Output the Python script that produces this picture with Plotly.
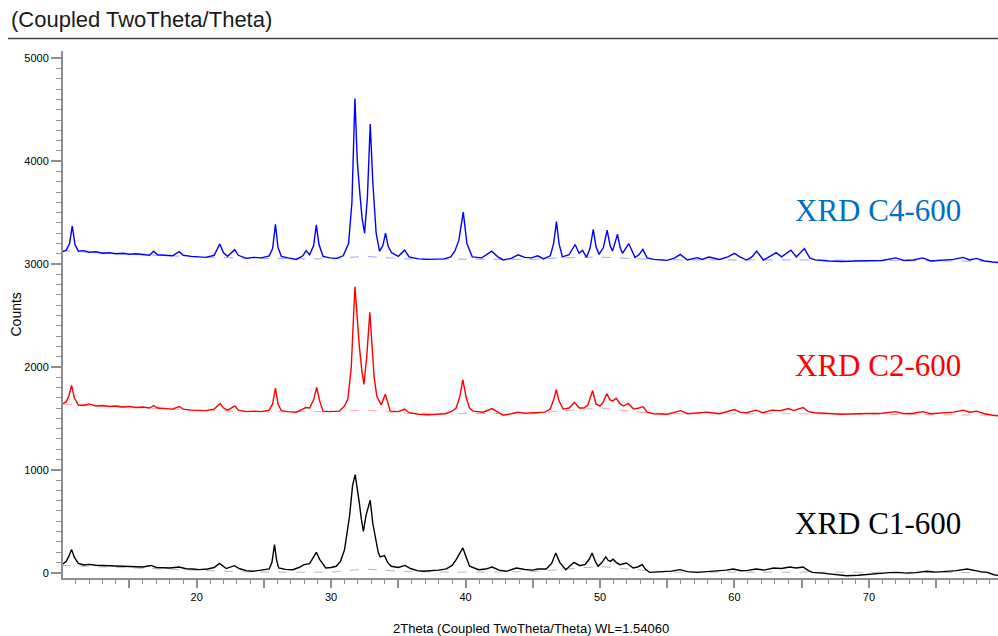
import plotly.graph_objects as go

# ---------------- data ----------------
# XRD C4-600 (blue)
c4_tt = [10.0, 10.3, 10.55, 10.75, 10.95, 11.2, 11.6, 12.0, 12.5, 13.0, 13.5, 14.0, 14.5, 15.0, 15.5, 16.0,
         16.5, 16.8, 17.1, 17.6, 18.2, 18.7, 19.0, 19.6, 20.2, 20.7, 21.3, 21.72, 22.0, 22.3, 22.83, 23.1,
         23.7, 24.2, 24.8, 25.4, 25.65, 25.86, 26.05, 26.3, 26.8, 27.4, 27.9, 28.14, 28.4, 28.7, 28.9, 29.1,
         29.4, 29.9, 30.4, 30.9, 31.3, 31.55, 31.77, 31.95, 32.1, 32.3, 32.49, 32.7, 32.91, 33.1, 33.35,
         33.6, 33.85, 34.05, 34.25, 34.5, 35.0, 35.47, 35.8, 36.5, 37.2, 37.8, 38.4, 38.9, 39.2, 39.5, 39.83,
         40.1, 40.5, 41.2, 41.95, 42.4, 42.8, 43.4, 43.9, 44.4, 44.9, 45.37, 45.8, 46.3, 46.55, 46.76, 46.95,
         47.2, 47.7, 48.15, 48.44, 48.7, 49.0, 49.25, 49.5, 49.7, 49.93, 50.25, 50.53, 50.75, 50.93, 51.3,
         51.5, 51.67, 52.14, 52.6, 52.9, 53.19, 53.5, 54.0, 54.95, 55.5, 55.97, 56.5, 57.23, 57.6, 58.1,
         58.9, 59.5, 60.0, 60.4, 60.9, 61.3, 61.65, 62.15, 62.7, 63.1, 63.5, 64.2, 64.6, 65.2, 65.6, 66.0,
         67.0, 68.0, 69.0, 70.0, 71.0, 72.0, 72.6, 73.3, 74.0, 74.6, 75.5, 76.3, 77.0, 77.5, 78.0, 78.6,
         79.2, 80.0]
c4_counts = [3120, 3135, 3200, 3370, 3190, 3125, 3130, 3115, 3120, 3105, 3110, 3100, 3105, 3095, 3100, 3090,
             3085, 3125, 3090, 3085, 3080, 3120, 3085, 3075, 3070, 3065, 3085, 3195, 3110, 3075, 3140, 3085,
             3055, 3065, 3060, 3080, 3150, 3385, 3160, 3075, 3060, 3045, 3080, 3130, 3090, 3180, 3380, 3190,
             3075, 3060, 3055, 3080, 3200, 3600, 4610, 4000, 3745, 3450, 3300, 3650, 4360, 3800, 3300,
             3125, 3180, 3300, 3170, 3110, 3075, 3135, 3070, 3050, 3045, 3048, 3050, 3070, 3125, 3230, 3505,
             3200, 3070, 3060, 3125, 3070, 3040, 3055, 3090, 3065, 3060, 3080, 3050, 3080, 3200, 3412, 3200,
             3070, 3090, 3190, 3105, 3133, 3065, 3150, 3337, 3170, 3094, 3160, 3330, 3180, 3126, 3289,
             3160, 3104, 3198, 3065, 3090, 3143, 3060, 3045, 3036, 3055, 3094, 3039, 3062, 3045, 3068,
             3045, 3070, 3104, 3070, 3039, 3070, 3126, 3039, 3080, 3111, 3070, 3135, 3070, 3150, 3060, 3040,
             3030, 3025, 3030, 3030, 3035, 3060, 3035, 3040, 3060, 3030, 3035, 3045, 3065, 3040, 3055, 3030,
             3020, 3010]

# XRD C2-600 (red)
c2_tt = [10.0, 10.3, 10.5, 10.7, 10.9, 11.2, 11.6, 12.0, 12.5, 13.0, 13.5, 14.0, 14.5, 15.0, 15.5, 16.0,
         16.5, 16.8, 17.1, 17.6, 18.2, 18.7, 19.0, 19.6, 20.2, 20.7, 21.3, 21.75, 22.0, 22.3, 22.85, 23.1,
         23.7, 24.3, 24.8, 25.4, 25.65, 25.86, 26.05, 26.3, 26.8, 27.4, 27.9, 28.1, 28.4, 28.7, 28.93, 29.15,
         29.4, 29.9, 30.6, 31.0, 31.25, 31.5, 31.77, 31.95, 32.1, 32.3, 32.44, 32.65, 32.88, 33.05, 33.2,
         33.4, 33.73, 34.03, 34.2, 34.4, 35.0, 35.47, 35.8, 36.5, 37.2, 37.8, 38.5, 39.0, 39.3, 39.55, 39.8,
         40.05, 40.3, 40.55, 41.3, 41.97, 42.4, 42.8, 43.4, 43.9, 44.4, 45.37, 45.9, 46.3, 46.55, 46.75,
         46.95, 47.25, 47.7, 48.1, 48.45, 48.8, 49.1, 49.45, 49.7, 50.0, 50.25, 50.5, 50.75, 50.95, 51.2,
         51.5, 51.75, 52.1, 52.5, 52.9, 53.2, 53.5, 54.0, 55.0, 55.5, 56.0, 56.5, 57.2, 58.0, 58.9, 59.5,
         60.0, 60.4, 60.9, 61.6, 62.1, 62.8, 63.4, 64.0, 64.4, 65.1, 65.5, 66.0, 67.0, 68.0, 69.0, 70.0,
         71.0, 72.0, 72.6, 73.3, 74.0, 74.6, 75.5, 76.3, 77.0, 77.5, 78.0, 78.6, 79.2, 80.0]
c2_counts = [1640, 1660, 1720, 1820, 1700, 1630, 1625, 1640, 1620, 1625, 1615, 1620, 1610, 1615, 1605, 1610,
             1600, 1625, 1600, 1595, 1590, 1615, 1590, 1580, 1575, 1575, 1590, 1645, 1600, 1580, 1620, 1580,
             1565, 1570, 1565, 1580, 1640, 1795, 1640, 1575, 1565, 1560, 1590, 1605, 1600, 1680, 1800, 1670,
             1570, 1565, 1570, 1620, 1690, 2000, 2780, 2400, 2200, 1950, 1830, 2100, 2530, 2200, 1900,
             1715, 1630, 1735, 1650, 1570, 1565, 1590, 1555, 1540, 1535, 1540, 1545, 1570, 1600, 1700, 1875,
             1700, 1600, 1570, 1560, 1595, 1560, 1530, 1545, 1560, 1550, 1555, 1560, 1590, 1680, 1780,
             1670, 1590, 1600, 1655, 1600, 1600, 1630, 1770, 1640, 1620, 1660, 1740, 1680, 1670, 1695,
             1640, 1620, 1645, 1590, 1600, 1615, 1560, 1545, 1540, 1555, 1575, 1545, 1555, 1560, 1545, 1565,
             1585, 1560, 1555, 1580, 1555, 1580, 1575, 1595, 1575, 1605, 1565, 1555, 1545, 1540, 1545, 1545,
             1550, 1565, 1545, 1550, 1565, 1545, 1550, 1560, 1580, 1560, 1570, 1545, 1530, 1520]

# XRD C1-600 (black)
c1_tt = [10.0, 10.3, 10.5, 10.7, 10.9, 11.2, 11.6, 12.0, 12.5, 13.0, 13.5, 14.0, 14.5, 15.0, 15.5, 16.0,
         16.6, 17.0, 17.5, 18.0, 18.7, 19.2, 19.7, 20.2, 20.8, 21.3, 21.7, 22.0, 22.2, 22.8, 23.2, 23.7,
         24.17, 24.8, 25.4, 25.6, 25.79, 25.95, 26.1, 26.6, 27.15, 27.6, 28.0, 28.4, 28.65, 28.9, 29.15,
         29.6, 30.0, 30.38, 30.7, 31.0, 31.37, 31.6, 31.79, 31.95, 32.1, 32.25, 32.4, 32.6, 32.91, 33.1,
         33.3, 33.5, 33.65, 33.97, 34.2, 34.47, 35.0, 35.5, 35.9, 36.4, 36.83, 37.5, 38.0, 38.57, 39.0,
         39.3, 39.55, 39.8, 40.05, 40.3, 40.97, 41.5, 41.97, 42.5, 43.04, 43.78, 44.4, 45.0, 45.37, 46.0,
         46.4, 46.71, 47.0, 47.45, 47.8, 48.07, 48.5, 48.9, 49.2, 49.41, 49.65, 49.86, 50.15, 50.43, 50.6,
         50.78, 50.97, 51.2, 51.47, 51.97, 52.47, 52.8, 53.14, 53.4, 53.7, 54.5, 55.3, 55.94, 56.5, 57.2,
         58.0, 58.8, 59.4, 59.9, 60.5, 61.0, 61.6, 62.2, 62.9, 63.5, 64.1, 64.6, 65.1, 65.5, 65.8, 66.5,
         67.5, 68.35, 69.2, 70.0, 70.8, 71.5, 72.1, 72.8, 73.5, 74.3, 75.0, 75.8, 76.5, 77.3, 77.8, 78.3,
         78.8, 79.3, 80.0]
c1_counts = [78, 110, 160, 224, 150, 90, 75, 80, 72, 70, 65, 62, 60, 58, 55, 55,
             70, 50, 48, 45, 55, 38, 35, 29, 35, 50, 90, 55, 40, 68, 38, 20,
             13, 25, 36, 100, 272, 120, 45, 32, 29, 50, 78, 88, 140, 198, 130,
             45, 50, 62, 110, 224, 548, 850, 953, 780, 678, 520, 402, 560, 704, 480,
             321, 200, 153, 165, 100, 62, 50, 70, 40, 20, 13, 18, 25, 36, 70,
             126, 190, 240, 150, 62, 29, 35, 55, 25, 13, 45, 30, 25, 36, 36,
             90, 191, 100, 29, 70, 100, 68, 80, 130, 191, 110, 62, 100, 153, 120,
             110, 130, 100, 78, 94, 45, 55, 78, 30, 3, 10, 15, 29, 10, 3,
             12, 15, 25, 36, 18, 22, 36, 25, 45, 40, 55, 45, 55, 20, 3, -5,
             -20, -30, -25, -15, -10, 0, 3, -5, 0, 13, 5, 10, 20, 36, 20, 10,
             3, -20, -35]

# fitted backgrounds (faint lines under each pattern)
bg_tt = [10.0, 14.0, 20.0, 24.0, 30.0, 32.5, 35.5, 40.0, 45.0, 47.0, 50.0, 53.0, 55.0, 65.0, 80.0]
c4_bg = [3130, 3100, 3070, 3055, 3050, 3075, 3050, 3045, 3045, 3060, 3068, 3050, 3040, 3040, 3025]
c2_bg = [1640, 1610, 1580, 1565, 1565, 1580, 1550, 1545, 1545, 1570, 1600, 1560, 1545, 1545, 1530]
c1_bg = [70, 50, 20, 5, 5, 35, 10, 5, 10, 30, 60, 25, 5, 5, 0]

series_names = ["XRD C1-600", "XRD C2-600", "XRD C4-600"]
x_tick_vals = [15, 20, 25, 30, 35, 40, 45, 50, 55, 60, 65, 70, 75]
x_tick_text = ["", "20", "", "30", "", "40", "", "50", "", "60", "", "70", ""]
y_tick_vals = [0, 1000, 2000, 3000, 4000, 5000]
y_tick_text = ["0", "1000", "2000", "3000", "4000", "5000"]

# ---------------- figure ----------------
fig = go.Figure()

bg_styles = [(c1_bg, "#b0b0b0"), (c2_bg, "#ff9a9a"), (c4_bg, "#9a9aff")]
for bg, col in bg_styles:
    fig.add_trace(go.Scatter(x=bg_tt, y=bg, mode="lines", line=dict(color=col, width=0.9, dash="dash"),
                             hoverinfo="skip", showlegend=False))

fig.add_trace(go.Scatter(x=c1_tt, y=c1_counts, mode="lines", name=series_names[0],
                         line=dict(color="#000000", width=1.4), showlegend=False))
fig.add_trace(go.Scatter(x=c2_tt, y=c2_counts, mode="lines", name=series_names[1],
                         line=dict(color="#ff0000", width=1.4), showlegend=False))
fig.add_trace(go.Scatter(x=c4_tt, y=c4_counts, mode="lines", name=series_names[2],
                         line=dict(color="#0000ff", width=1.4), showlegend=False))

axis_grey = "#8f8f8f"
tick_font = dict(family="Arial, Liberation Sans, sans-serif", size=11, color="#000000")

fig.update_xaxes(range=[10.06, 79.6], showgrid=False, zeroline=False, showline=True,
                 linecolor=axis_grey, linewidth=2, ticks="outside", tickmode="array",
                 tickvals=x_tick_vals, ticktext=x_tick_text, ticklen=8, tickwidth=1.5,
                 tickcolor=axis_grey, tickfont=tick_font,
                 minor=dict(ticks="outside", dtick=1, tick0=0, ticklen=4, tickwidth=1.2,
                            tickcolor=axis_grey, showgrid=False))
fig.update_yaxes(range=[-52, 5071], showgrid=False, zeroline=False, showline=True,
                 linecolor=axis_grey, linewidth=2, ticks="outside", tickmode="array",
                 tickvals=y_tick_vals, ticktext=y_tick_text, ticklen=10, tickwidth=1.5,
                 tickcolor=axis_grey, tickfont=tick_font,
                 minor=dict(ticks="outside", dtick=100, tick0=0, ticklen=5, tickwidth=1.2,
                            tickcolor=axis_grey, showgrid=False))

label_font = "Times New Roman, Liberation Serif, serif"
annotations = [
    dict(x=64.35, y=3525, text=series_names[2], font=dict(family=label_font, size=31, color="#0070c0")),
    dict(x=64.35, y=2018, text=series_names[1], font=dict(family=label_font, size=31, color="#ff0000")),
    dict(x=64.35, y=473, text=series_names[0], font=dict(family=label_font, size=31, color="#000000")),
]
for a in annotations:
    a.update(xref="x", yref="y", xanchor="left", yanchor="middle", showarrow=False)
    fig.add_annotation(**a)

# chart title, axis titles
fig.add_annotation(xref="paper", yref="paper", x=0, y=1, xshift=-54, yshift=32, xanchor="left",
                   yanchor="middle", showarrow=False, text="(Coupled TwoTheta/Theta)",
                   font=dict(family="Arial, Liberation Sans, sans-serif", size=22, color="#1a1a1a"))
fig.add_annotation(xref="paper", yref="paper", x=0, y=0.5, xshift=-48, xanchor="center",
                   yanchor="middle", showarrow=False, text="Counts", textangle=-90,
                   font=dict(family="Arial, Liberation Sans, sans-serif", size=14, color="#000000"))
fig.add_annotation(xref="paper", yref="paper", x=0.5, y=0, yshift=-50, xanchor="center",
                   yanchor="middle", showarrow=False, text="2Theta (Coupled TwoTheta/Theta) WL=1.54060",
                   font=dict(family="Arial, Liberation Sans, sans-serif", size=13, color="#000000"))

fig.add_shape(type="line", xref="paper", yref="paper", x0=-0.0588, x1=1.0, y0=1.0237, y1=1.0237,
              line=dict(color="#444444", width=1.5))

fig.update_layout(width=998, height=636, autosize=False,
                  margin=dict(l=63, r=0, t=51, b=58, pad=0),
                  paper_bgcolor="#ffffff", plot_bgcolor="#ffffff", showlegend=False)

fig.write_html("out.html", config={"displayModeBar": False},
               post_script="document.body.style.margin='0';document.body.style.overflow='hidden';")
